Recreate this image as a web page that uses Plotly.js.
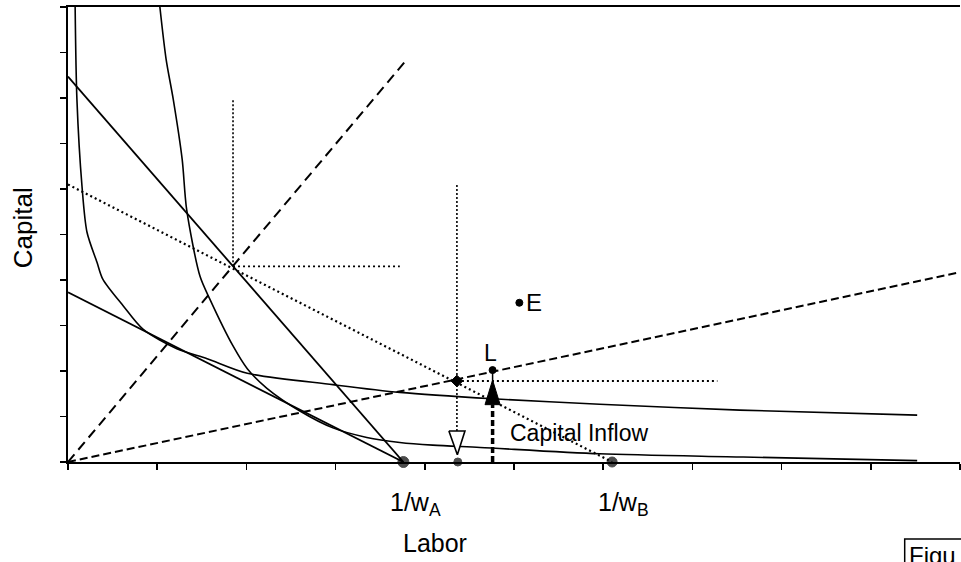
<!DOCTYPE html>
<html>
<head>
<meta charset="utf-8">
<script src="https://cdn.plot.ly/plotly-3.0.1.min.js"></script>
<style>html,body{margin:0;padding:0;background:#fff;}#chart{width:961px;height:562px;}</style>
</head>
<body>
<div id="chart"></div>
<script>
// ---- data (labor on x, capital on y) ----
const isoquant1X = [0.08, 0.10, 0.157, 0.213, 0.325, 0.39, 0.62, 0.84, 1.22, 1.56, 2.01, 2.97, 3.72, 4.76, 5.96, 7.53, 9.52];
const isoquant1Y = [10.0, 7.97, 6.06, 5.05, 4.39, 4.02, 3.43, 2.92, 2.49, 2.27, 1.95, 1.70, 1.53, 1.39, 1.27, 1.14, 1.03];
const isoquant2X = [1.03, 1.10, 1.18, 1.28, 1.33, 1.48, 1.59, 1.85, 2.01, 2.23, 2.60, 2.97, 3.35, 3.72, 4.09, 4.62, 5.96, 7.57, 9.52];
const isoquant2Y = [10.0, 8.85, 7.97, 6.65, 5.55, 4.08, 3.58, 2.55, 2.05, 1.62, 1.12, 0.75, 0.54, 0.43, 0.37, 0.32, 0.18, 0.11, 0.03];
const isocostUpperX = [0, 3.76];
const isocostUpperY = [8.47, 0];
const isocostLowerX = [0, 3.76];
const isocostLowerY = [3.73, 0];
const isocostDottedX = [0, 6.10];
const isocostDottedY = [6.10, 0];
const rayAX = [0, 3.80];
const rayAY = [0, 8.85];
const rayBX = [0, 10.0];
const rayBY = [0, 4.17];
const guideA = {x: 1.85, y: 4.30, top: 7.95, right: 3.72};
const guideB = {x: 4.36, y: 1.78, top: 6.09, right: 7.28, triTop: 0.68, triTip: 0.16};
const pointsX = [3.76, 4.37, 6.10];   // 1/wA, middle, 1/wB on the labor axis
const pointsY = [0, 0, 0];
const pointE = [5.06, 3.50];
const pointL = [4.76, 2.02];
const inflow = {x: 4.76, base: 1.26, tip: 1.80};
const axisTicks = [0,1,2,3,4,5,6,7,8,9,10];

// ---- styles ----
const black = '#000';
const halfW = 0.085;  // arrowhead half width (style)
const dotMarker = (size, symbol) => ({color: black, size: size, symbol: symbol || 'circle', line: {color: black, width: 1}});
const traces = [
  {x: isoquant1X, y: isoquant1Y, mode: 'lines', line: {color: black, width: 1.6, shape: 'spline', smoothing: 0.8}},
  {x: isoquant2X, y: isoquant2Y, mode: 'lines', line: {color: black, width: 1.6, shape: 'spline', smoothing: 0.8}},
  {x: isocostUpperX, y: isocostUpperY, mode: 'lines', line: {color: black, width: 1.8}},
  {x: isocostLowerX, y: isocostLowerY, mode: 'lines', line: {color: black, width: 1.8}},
  {x: isocostDottedX, y: isocostDottedY, mode: 'lines', line: {color: black, width: 2.2, dash: '2px,3px'}},
  {x: rayAX, y: rayAY, mode: 'lines', line: {color: black, width: 2, dash: '10px,6px'}},
  {x: rayBX, y: rayBY, mode: 'lines', line: {color: black, width: 2, dash: '8px,4px'}},
  // guides around first intersection
  {x: [guideA.x, guideA.x], y: [guideA.top, guideA.y], mode: 'lines', line: {color: black, width: 1.6, dash: '2px,2px'}},
  {x: [guideA.x, guideA.right], y: [guideA.y, guideA.y], mode: 'lines', line: {color: black, width: 1.8, dash: '2px,3px'}},
  // guides around second point
  {x: [guideB.x, guideB.x], y: [guideB.top, guideB.triTop], mode: 'lines', line: {color: black, width: 1.6, dash: '2px,2px'}},
  {x: [guideB.x, guideB.right], y: [guideB.y, guideB.y], mode: 'lines', line: {color: black, width: 1.8, dash: '2px,3px'}},
  // open triangle
  {x: [guideB.x - 0.09, guideB.x + 0.09, guideB.x + 0.005, guideB.x - 0.09], y: [guideB.triTop, guideB.triTop, guideB.triTip, guideB.triTop],
   mode: 'lines', fill: 'toself', fillcolor: '#fff', line: {color: black, width: 1.6}},
  // capital inflow arrow
  {x: [inflow.x, inflow.x], y: [0, inflow.base], mode: 'lines', line: {color: black, width: 3.5, dash: '6px,3px'}},
  {x: [inflow.x - halfW, inflow.x + halfW, inflow.x, inflow.x - halfW], y: [inflow.base, inflow.base, inflow.tip, inflow.base],
   mode: 'lines', fill: 'toself', fillcolor: black, line: {color: black, width: 1}},
  {x: [inflow.x, pointL[0]], y: [inflow.tip, pointL[1]], mode: 'lines', line: {color: black, width: 1.5}},
  // points
  {x: pointsX, y: pointsY, mode: 'markers', marker: {color: black, size: [11, 8, 10], line: {color: black, width: 1}}, cliponaxis: false},
  {x: [guideB.x], y: [guideB.y], mode: 'markers', marker: dotMarker(9, 'diamond')},
  {x: [pointE[0]], y: [pointE[1]], mode: 'markers', marker: dotMarker(7)},
  {x: [pointL[0]], y: [pointL[1]], mode: 'markers', marker: dotMarker(7)}
];

const font = 'Liberation Sans, Arial, sans-serif';
const layout = {
  width: 961, height: 562,
  margin: {l: 68, r: 1, t: 7, b: 100},
  paper_bgcolor: '#fff', plot_bgcolor: '#fff',
  showlegend: false,
  font: {family: font, color: black},
  xaxis: {range: [0, 10], tickvals: axisTicks, showticklabels: false, ticks: 'outside', ticklen: 6, tickwidth: 1.5,
          tickcolor: black, showline: true, linewidth: 2, linecolor: black, mirror: true, showgrid: false, zeroline: false},
  yaxis: {range: [0, 10], tickvals: axisTicks, showticklabels: false, ticks: 'outside', ticklen: 6, tickwidth: 1.5,
          tickcolor: black, showline: true, linewidth: 2, linecolor: black, showgrid: false, zeroline: false},
  annotations: [
    {xref: 'paper', yref: 'paper', x: -0.0504, y: 0.514, text: 'Capital', textangle: -90, showarrow: false,
     font: {size: 26}, xanchor: 'center', yanchor: 'middle'},
    {xref: 'paper', yref: 'paper', x: 0.411, y: -0.178, text: 'Labor', showarrow: false, font: {size: 25},
     xanchor: 'center', yanchor: 'middle'},
    {xref: 'x', yref: 'paper', x: pointsX[0], y: -0.052, text: '1/w<sub>A</sub>', showarrow: false, font: {size: 25},
     xanchor: 'left', yanchor: 'top', xshift: -15},
    {xref: 'x', yref: 'paper', x: pointsX[2], y: -0.052, text: '1/w<sub>B</sub>', showarrow: false, font: {size: 25},
     xanchor: 'left', yanchor: 'top', xshift: -16},
    {xref: 'x', yref: 'y', x: pointE[0], y: pointE[1], text: 'E', showarrow: false, font: {size: 24},
     xanchor: 'left', yanchor: 'middle', xshift: 5},
    {xref: 'x', yref: 'y', x: pointL[0], y: pointL[1], text: 'L', showarrow: false, font: {size: 23},
     xanchor: 'center', yanchor: 'bottom', yshift: 2, xshift: -2},
    {xref: 'x', yref: 'y', x: 4.93, y: 0.64, text: 'Capital Inflow', showarrow: false, font: {size: 23},
     xanchor: 'left', yanchor: 'middle'},
    {xref: 'paper', yref: 'paper', x: 0.941, y: -0.172, text: 'Figu', showarrow: false, font: {size: 24},
     xanchor: 'left', yanchor: 'top'}
  ],
  shapes: [
    {type: 'rect', xref: 'paper', yref: 'paper', x0: 0.938, x1: 1.2, y0: -0.4, y1: -0.169, line: {color: black, width: 1.5}}
  ]
};
Plotly.newPlot('chart', traces, layout, {displayModeBar: false, staticPlot: true});
</script>
</body>
</html>
